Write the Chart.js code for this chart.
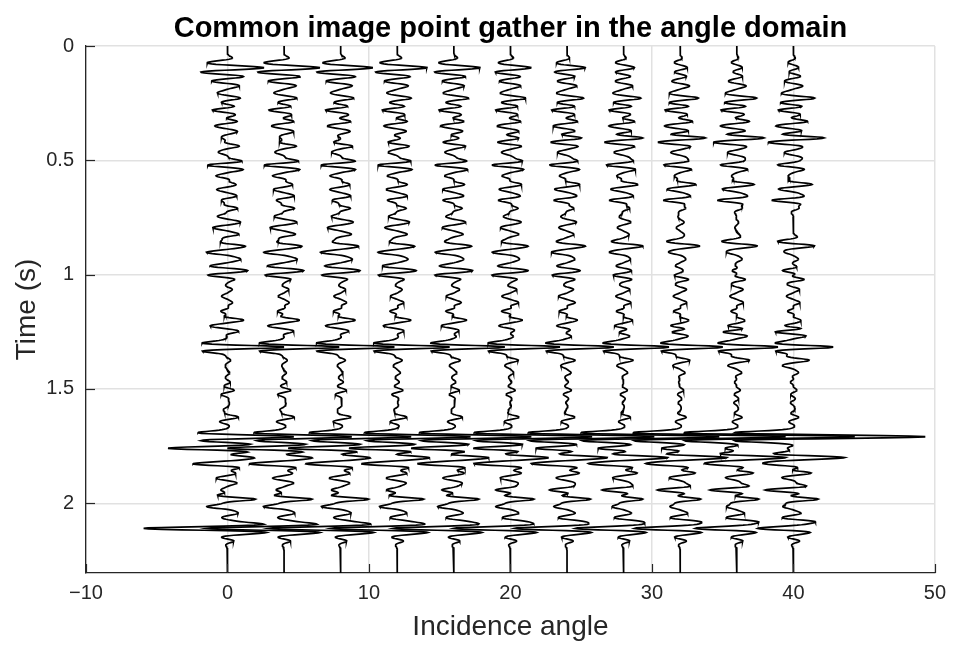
<!DOCTYPE html>
<html>
<head>
<meta charset="utf-8">
<title>Common image point gather in the angle domain</title>
<script src="https://cdn.jsdelivr.net/npm/chart.js@4.4.1/dist/chart.umd.min.js"></script>
<style>
  html, body { margin: 0; padding: 0; background: #ffffff; }
  #wrap { width: 954px; height: 649px; }
</style>
</head>
<body>
<div id="wrap"><canvas id="gather" width="954" height="649"></canvas></div>
<script>
// ---- Gather geometry -------------------------------------------------------
const traceAngles = [0, 4, 8, 12, 16, 20, 24, 28, 32, 36, 40];   // incidence angle of each trace (deg)
const xTickValues = [-10, 0, 10, 20, 30, 40, 50];
const xTickLabels = ['\u221210', '0', '10', '20', '30', '40', '50'];
const yTickValues = [0, 0.5, 1, 1.5, 2];
const yTickLabels = ['0', '0.5', '1', '1.5', '2'];
const recordLength = 2.305;     // s
const sampleInterval = 0.002;   // s
const waveletFreq = 22;         // Ricker peak frequency (Hz)

const titleText = 'Common image point gather in the angle domain';
const xTitle = 'Incidence angle';
const yTitle = 'Time (s)';

// ---- Reflectivity: event times (s) and amplitude on each trace --------------
const reflTimes = [
  0.070, 0.095, 0.117, 0.131, 0.153, 0.175, 0.204, 0.228, 0.250, 0.280,
  0.306, 0.328, 0.350, 0.375, 0.401, 0.423, 0.437, 0.465, 0.490, 0.505,
  0.520, 0.540, 0.569, 0.605, 0.628, 0.656, 0.675, 0.710, 0.744, 0.770,
  0.795, 0.824, 0.853, 0.875, 0.903, 0.933, 0.962, 0.982, 1.003, 1.021,
  1.064, 1.094, 1.123, 1.160, 1.198, 1.225, 1.250, 1.270, 1.317, 1.374,
  1.400, 1.430, 1.470, 1.505, 1.525, 1.560, 1.590, 1.623, 1.645, 1.709,
  1.759, 1.800, 1.828, 1.868, 1.890, 1.912, 1.942, 1.982, 2.015, 2.045,
  2.080, 2.110, 2.148, 2.165
];

//                 0°     4°     8°    12°    16°    20°    24°    28°    32°    36°    40°
const reflAmps = [
  [-0.80, -0.80, -0.70, -0.70, -0.60, -0.50, -0.40, -0.40, -0.30, -0.30, -0.30], // 0.070
  [ 2.05,  2.00,  1.80,  1.70,  1.50,  1.15,  1.10,  0.60,  0.40,  0.30,  0.30], // 0.095
  [-0.90, -0.90, -0.80, -0.70, -0.60, -0.50, -0.30, -0.20, -0.10,  0.00,  0.00], // 0.117
  [ 0.45,  0.45,  0.45,  0.40,  0.40,  0.30,  0.30,  0.30,  0.30,  0.30,  0.40], // 0.131
  [-0.80, -0.80, -0.70, -0.60, -0.50, -0.50, -0.40, -0.30, -0.30, -0.30, -0.30], // 0.153
  [ 0.50,  0.50,  0.50,  0.50,  0.50,  0.50,  0.50,  0.50,  0.50,  0.50,  0.50], // 0.175
  [-0.45, -0.45, -0.45, -0.45, -0.45, -0.40, -0.40, -0.40, -0.40, -0.40, -0.40], // 0.204
  [ 0.70,  0.70,  0.70,  0.75,  0.80,  0.85,  0.90,  0.95,  1.00,  1.10,  1.20], // 0.228
  [-0.20, -0.20, -0.25, -0.30, -0.30, -0.35, -0.40, -0.40, -0.45, -0.50, -0.50], // 0.250
  [-1.00, -1.00, -1.00, -1.00, -1.00, -1.00, -1.05, -1.00, -1.05, -1.10, -1.05], // 0.280
  [ 0.40,  0.40,  0.40,  0.40,  0.35,  0.35,  0.35,  0.30,  0.30,  0.30,  0.30], // 0.306
  [ 0.60,  0.60,  0.60,  0.60,  0.60,  0.60,  0.60,  0.60,  0.70,  0.70,  0.80], // 0.328
  [-0.55, -0.55, -0.60, -0.60, -0.60, -0.60, -0.65, -0.70, -0.70, -0.75, -0.80], // 0.350
  [ 0.50,  0.50,  0.50,  0.50,  0.50,  0.50,  0.50,  0.50,  0.60,  0.60,  0.60], // 0.375
  [-0.30, -0.20,  0.00,  0.20,  0.30,  0.50,  0.90,  1.20,  1.60,  1.70,  1.90], // 0.401
  [ 0.00, -0.10, -0.20, -0.30, -0.40, -0.50, -0.60, -0.70, -0.80, -0.90, -1.00], // 0.423
  [ 0.75,  0.75,  0.70,  0.65,  0.60,  0.50,  0.45,  0.40,  0.30,  0.20,  0.10], // 0.437
  [-0.45, -0.45, -0.45, -0.45, -0.45, -0.45, -0.50, -0.50, -0.50, -0.50, -0.50], // 0.465
  [ 0.30,  0.30,  0.30,  0.35,  0.35,  0.40,  0.40,  0.45,  0.45,  0.50,  0.50], // 0.490
  [ 0.85,  0.85,  0.85,  0.80,  0.75,  0.70,  0.60,  0.50,  0.40,  0.30,  0.20], // 0.505
  [-0.70, -0.70, -0.70, -0.70, -0.70, -0.70, -0.70, -0.75, -0.75, -0.80, -0.80], // 0.520
  [ 0.75,  0.75,  0.70,  0.70,  0.65,  0.60,  0.55,  0.50,  0.45,  0.40,  0.40], // 0.540
  [-0.70, -0.70, -0.65, -0.60, -0.55, -0.50, -0.45, -0.40, -0.35, -0.30, -0.30], // 0.569
  [ 0.40,  0.40,  0.45,  0.50,  0.55,  0.60,  0.70,  0.80,  0.90,  1.00,  1.10], // 0.605
  [-0.55, -0.55, -0.55, -0.55, -0.55, -0.55, -0.60, -0.60, -0.60, -0.65, -0.65], // 0.628
  [ 0.50,  0.50,  0.45,  0.40,  0.35,  0.30,  0.25,  0.20,  0.15,  0.10,  0.00], // 0.656
  [-0.20, -0.30, -0.40, -0.50, -0.60, -0.70, -0.80, -0.90, -1.10, -1.30, -1.50], // 0.675
  [ 0.70,  0.70,  0.65,  0.60,  0.55,  0.50,  0.45,  0.40,  0.35,  0.35,  0.35], // 0.710
  [-0.55, -0.55, -0.50, -0.45, -0.40, -0.35, -0.30, -0.20, -0.10,  0.00,  0.00], // 0.744
  [ 0.60,  0.60,  0.60,  0.60,  0.60,  0.55,  0.50,  0.40,  0.20,  0.10,  0.00], // 0.770
  [-0.80, -0.75, -0.70, -0.65, -0.60, -0.50, -0.40, -0.30, -0.20, -0.10,  0.00], // 0.795
  [ 0.70,  0.70,  0.65,  0.60,  0.55,  0.50,  0.40,  0.30,  0.20,  0.10,  0.00], // 0.824
  [ 0.00,  0.00, -0.10, -0.10, -0.20, -0.20, -0.30, -0.40, -0.50, -0.60, -0.65], // 0.853
  [ 1.05,  1.05,  1.05,  1.00,  1.00,  1.00,  1.05,  1.10,  1.10,  1.15,  1.20], // 0.875
  [-1.25, -1.20, -1.20, -1.15, -1.10, -1.08, -0.90, -0.80, -0.60, -0.50, -0.40], // 0.903
  [ 0.70,  0.70,  0.60,  0.55,  0.50,  0.45,  0.40,  0.35,  0.30,  0.30,  0.30], // 0.933
  [-0.90, -0.85, -0.80, -0.75, -0.70, -0.60, -0.50, -0.40, -0.30, -0.20, -0.10], // 0.962
  [ 0.60,  0.60,  0.60,  0.60,  0.60,  0.57,  0.40,  0.20,  0.00, -0.40, -0.80], // 0.982
  [-1.15, -1.10, -1.10, -1.10, -1.10, -1.08, -0.80, -0.50, -0.20,  0.00,  0.00], // 1.003
  [ 0.00,  0.00,  0.00,  0.00,  0.00,  0.00,  0.20,  0.35,  0.50,  0.60,  0.75], // 1.021
  [ 0.30,  0.30,  0.30,  0.30,  0.35,  0.40,  0.40,  0.40,  0.40,  0.40,  0.40], // 1.064
  [-0.35, -0.35, -0.40, -0.40, -0.45, -0.50, -0.50, -0.45, -0.40, -0.40, -0.40], // 1.094
  [ 0.30,  0.30,  0.35,  0.40,  0.45,  0.50,  0.50,  0.45,  0.40,  0.40,  0.40], // 1.123
  [-0.45, -0.45, -0.50, -0.50, -0.55, -0.60, -0.55, -0.50, -0.45, -0.40, -0.40], // 1.160
  [ 0.95,  0.90,  0.85,  0.80,  0.75,  0.70,  0.60,  0.50,  0.45,  0.40,  0.35], // 1.198
  [-0.90, -0.85, -0.80, -0.75, -0.70, -0.65, -0.60, -0.60, -0.70, -0.75, -0.80], // 1.225
  [ 0.60,  0.50,  0.40,  0.30,  0.20,  0.10,  0.00, -0.30, -0.60, -1.00, -1.35], // 1.250
  [ 0.20,  0.20,  0.20,  0.20,  0.25,  0.25,  0.30,  0.30,  0.30,  0.30,  0.30], // 1.270
  [ 4.00,  3.90,  3.80,  3.70,  3.60,  3.50,  3.30,  3.20,  3.00,  2.90,  2.80], // 1.317
  [ 0.20,  0.20,  0.30,  0.30,  0.40,  0.50,  0.50,  0.60,  0.60,  0.80,  1.00], // 1.374
  [-0.10, -0.10, -0.15, -0.20, -0.20, -0.25, -0.30, -0.30, -0.35, -0.40, -0.50], // 1.400
  [ 0.15,  0.15,  0.15,  0.20,  0.20,  0.20,  0.25,  0.25,  0.30,  0.30,  0.30], // 1.430
  [ 0.20,  0.20,  0.20,  0.15,  0.15,  0.10,  0.10,  0.00, -0.10, -0.15, -0.20], // 1.470
  [ 0.35,  0.35,  0.30,  0.30,  0.30,  0.25,  0.25,  0.20,  0.20,  0.20,  0.20], // 1.505
  [-0.30, -0.30, -0.25, -0.25, -0.20, -0.20, -0.15, -0.15, -0.10, -0.10, -0.10], // 1.525
  [ 0.10,  0.10,  0.05,  0.00,  0.00, -0.05, -0.10, -0.10, -0.15, -0.20, -0.20], // 1.560
  [-0.25, -0.25, -0.20, -0.20, -0.15, -0.10, -0.05,  0.00,  0.05,  0.10,  0.10], // 1.590
  [ 0.65,  0.60,  0.60,  0.55,  0.50,  0.50,  0.45,  0.40,  0.35,  0.30,  0.30], // 1.623
  [-0.30, -0.30, -0.30, -0.30, -0.25, -0.25, -0.25, -0.20, -0.20, -0.20, -0.20], // 1.645
  [ 4.70,  4.80,  5.00,  5.20,  5.50,  5.80,  6.20,  6.80,  7.50,  8.40,  9.40], // 1.709
  [-4.20, -4.00, -3.70, -3.40, -3.00, -2.60, -2.20, -1.80, -1.30, -0.80, -0.40], // 1.759
  [ 1.50,  1.60,  1.70,  1.90,  2.10,  2.30,  2.50,  2.80,  3.00,  3.20,  3.40], // 1.800
  [-2.20, -2.20, -2.20, -2.20, -2.20, -2.20, -2.10, -2.00, -1.90, -1.70, -1.50], // 1.828
  [ 0.40,  0.40,  0.45,  0.50,  0.55,  0.60,  0.70,  0.80,  0.90,  1.00,  1.10], // 1.868
  [-0.50, -0.50, -0.50, -0.45, -0.45, -0.40, -0.40, -0.40, -0.40, -0.40, -0.40], // 1.890
  [ 0.45,  0.45,  0.40,  0.40,  0.35,  0.30,  0.30,  0.20,  0.10,  0.00, -0.10], // 1.912
  [-0.40, -0.50, -0.60, -0.70, -0.80, -1.00, -1.20, -1.50, -1.60, -1.90, -2.00], // 1.942
  [ 1.90,  1.90,  1.90,  1.80,  1.70,  1.60,  1.60,  1.30,  1.40,  1.50,  1.70], // 1.982
  [-1.30, -1.30, -1.20, -1.10, -1.00, -0.90, -0.80, -0.70, -0.60, -0.60, -0.60], // 2.015
  [ 0.60,  0.60,  0.60,  0.55,  0.55,  0.50,  0.50,  0.50,  0.50,  0.50,  0.50], // 2.045
  [ 0.30,  0.40,  0.50,  0.60,  0.70,  0.80,  0.90,  1.00,  1.10,  1.20,  1.30], // 2.080
  [-5.90, -5.40, -5.00, -4.60, -4.20, -3.90, -3.60, -3.30, -3.10, -2.80, -2.40], // 2.110
  [-0.35, -0.35, -0.30, -0.30, -0.30, -0.30, -0.30, -0.30, -0.30, -0.30, -0.30], // 2.148
  [ 0.30,  0.30,  0.30,  0.30,  0.30,  0.30,  0.30,  0.30,  0.30,  0.30,  0.30]  // 2.165
];

// ---- Synthetic traces: reflectivity convolved with a zero-phase Ricker wavelet
function ricker(tau) {
  const a = Math.pow(Math.PI * waveletFreq * tau, 2);
  return (1 - 2 * a) * Math.exp(-a);
}

const nSamples = Math.round(recordLength / sampleInterval) + 1;

const datasets = traceAngles.map((angle, j) => {
  const pts = [];
  for (let i = 0; i < nSamples; i++) {
    const t = i * sampleInterval;
    let s = 0;
    for (let k = 0; k < reflTimes.length; k++) {
      const tau = t - reflTimes[k];
      if (Math.abs(tau) < 0.1) s += reflAmps[k][j] * ricker(tau);
    }
    pts.push({ x: angle + s, y: t });
  }
  return {
    label: angle + '°',
    data: pts,
    showLine: true,
    borderColor: '#000000',
    borderWidth: 1.7,
    pointRadius: 0,
    pointHoverRadius: 0,
    tension: 0,
    fill: false
  };
});

// ---- Titles and inward tick marks ------------------------------------------
const FONT = '"Liberation Sans", Arial, Helvetica, sans-serif';

const frameDecor = {
  id: 'frameDecor',
  afterDraw(chart) {
    const { ctx, chartArea: a, scales } = chart;
    const xs = scales.x, ys = scales.y;
    ctx.save();
    ctx.strokeStyle = '#262626';
    ctx.lineWidth = 1.2;
    xTickValues.forEach(v => {
      const px = Math.round(xs.getPixelForValue(v)) + 0.5;
      ctx.beginPath(); ctx.moveTo(px, a.bottom); ctx.lineTo(px, a.bottom - 9); ctx.stroke();
    });
    yTickValues.forEach(v => {
      const py = Math.round(ys.getPixelForValue(v)) + 0.5;
      ctx.beginPath(); ctx.moveTo(a.left, py); ctx.lineTo(a.left + 9, py); ctx.stroke();
    });

    const cx = (a.left + a.right) / 2;
    ctx.textAlign = 'center';
    ctx.textBaseline = 'middle';
    ctx.fillStyle = '#000000';
    ctx.font = 'bold 29px ' + FONT;
    ctx.fillText(titleText, cx, 29);

    ctx.fillStyle = '#262626';
    ctx.font = '28px ' + FONT;
    ctx.fillText(xTitle, cx, 627);

    ctx.translate(27, (a.top + a.bottom) / 2);
    ctx.rotate(-Math.PI / 2);
    ctx.fillText(yTitle, 0, 0);
    ctx.restore();
  }
};

new Chart(document.getElementById('gather'), {
  type: 'scatter',
  data: { datasets },
  options: {
    responsive: false,
    animation: false,
    events: [],
    layout: { padding: { left: 0, right: 17, top: 46, bottom: 0 } },
    plugins: { legend: { display: false }, tooltip: { enabled: false }, title: { display: false } },
    scales: {
      x: {
        type: 'linear',
        min: -10,
        max: 50,
        afterBuildTicks: s => { s.ticks = xTickValues.map(v => ({ value: v })); },
        afterFit: s => { s.height = 76; },
        grid: { color: '#e1e1e1', lineWidth: 1.5, drawTicks: false },
        border: { display: true, color: '#262626', width: 1.3 },
        ticks: {
          color: '#262626',
          font: { family: FONT, size: 20 },
          padding: 8,
          maxRotation: 0,
          callback: (v) => xTickLabels[xTickValues.indexOf(v)]
        }
      },
      y: {
        type: 'linear',
        reverse: true,
        min: 0,
        max: recordLength,
        afterBuildTicks: s => { s.ticks = yTickValues.map(v => ({ value: v })); },
        afterFit: s => { s.width = 86; },
        grid: { color: '#e1e1e1', lineWidth: 1.5, drawTicks: false },
        border: { display: true, color: '#262626', width: 1.3 },
        ticks: {
          color: '#262626',
          font: { family: FONT, size: 20 },
          padding: 12,
          callback: (v) => yTickLabels[yTickValues.indexOf(v)]
        }
      }
    }
  },
  plugins: [frameDecor]
});
</script>
</body>
</html>
